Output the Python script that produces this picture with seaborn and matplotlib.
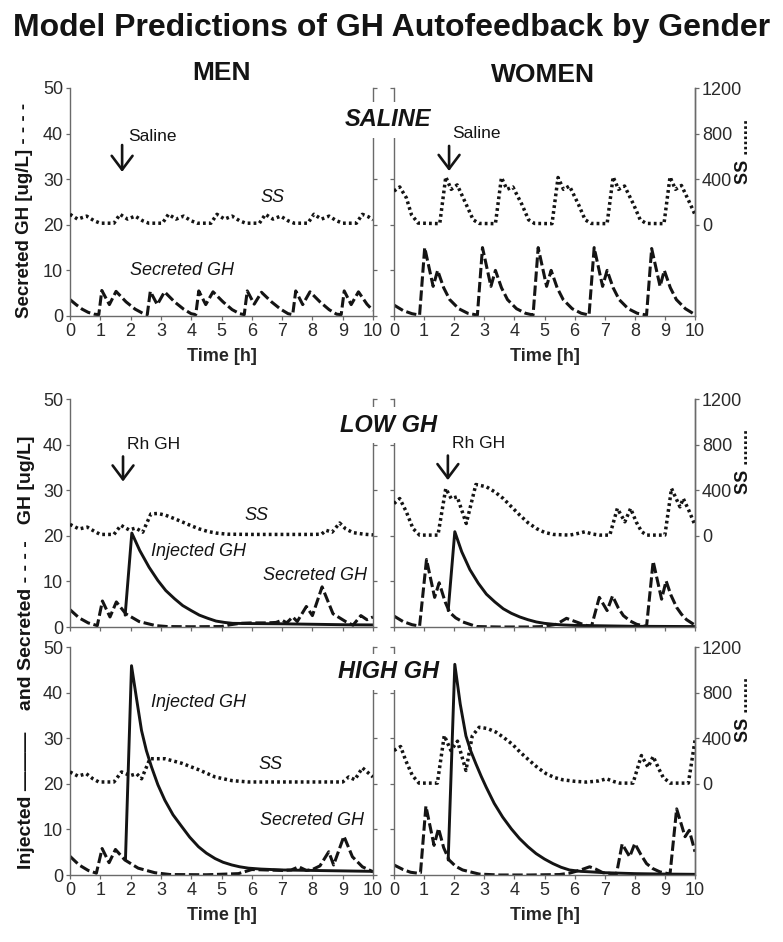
import numpy as np
import pandas as pd
import seaborn as sns
from matplotlib import pyplot as plt

sns.set_style('ticks')
plt.rcParams['font.family'] = ['Liberation Sans', 'DejaVu Sans']

INK = '#141414'
SPINE = '#6a6a6a'

# ---- data (time in h) ----
# row 1: saline
m1_gh_t = [0, 0.2, 0.4, 0.6, 0.8, 0.95, 1.05, 1.3, 1.52, 1.85, 2.15, 2.4, 2.55, 2.65, 2.88, 3.12, 3.45, 3.75, 4.0, 4.15,
           4.25, 4.48, 4.72, 5.05, 5.35, 5.6, 5.75, 5.85, 6.08, 6.32, 6.65, 6.95, 7.2, 7.35, 7.45, 7.68, 7.92, 8.25, 8.55,
           8.8, 8.95, 9.05, 9.28, 9.52, 9.8, 10]
m1_gh_v = [3.6, 2.5, 1.5, 0.8, 0.4, 0.3, 5.6, 2.5, 5.4, 3.1, 1.5, 0.6, 0.3, 5.4, 2.5, 5.3, 3.1, 1.5, 0.5, 0.3,
           5.5, 2.5, 5.3, 3.1, 1.4, 0.5, 0.3, 5.5, 2.6, 5.2, 3.1, 1.5, 0.5, 0.3, 5.5, 2.5, 5.3, 3.1, 1.4,
           0.4, 0.3, 5.5, 2.5, 5.3, 2.6, 1.2]
m1_ss_t = [0, 0.25, 0.55, 0.8, 1.0, 1.45, 1.65, 1.9, 2.15, 2.4, 2.6, 3.05, 3.25, 3.5, 3.75, 4.0, 4.2, 4.65, 4.85, 5.1,
           5.35, 5.6, 5.8, 6.25, 6.45, 6.7, 6.95, 7.2, 7.4, 7.85, 8.05, 8.3, 8.55, 8.8, 9.0, 9.45, 9.65, 9.85, 10]
m1_ss_v = [92, 50, 76, 35, 14, 14, 92, 50, 76, 35, 14, 14, 92, 50, 76, 35, 14, 14, 92, 50,
           76, 35, 14, 14, 92, 50, 76, 35, 14, 14, 92, 50, 76, 35, 14, 14, 92, 70, 44]

w1_gh_t = [0, 0.3, 0.6, 0.85, 1.02, 1.3, 1.45, 1.65, 1.85, 2.15, 2.45, 2.77, 2.94, 3.22, 3.37, 3.57, 3.77, 4.07, 4.37,
           4.62, 4.79, 5.07, 5.22, 5.42, 5.62, 5.92, 6.22, 6.48, 6.65, 6.93, 7.08, 7.28, 7.48, 7.78, 8.08, 8.39, 8.56,
           8.84, 8.98, 9.18, 9.38, 9.68, 10]
w1_gh_v = [2.4, 1.2, 0.5, 0.2, 15.0, 6.5, 10.0, 6.2, 3.6, 1.6, 0.6, 0.2, 15.0, 6.5, 10.0, 6.2, 3.6, 1.6, 0.6,
           0.2, 15.0, 6.5, 10.0, 6.2, 3.6, 1.6, 0.6, 0.2, 15.0, 6.5, 10.0, 6.2, 3.6, 1.6, 0.6, 0.2, 14.8,
           6.5, 10.0, 6.2, 3.6, 1.6, 0.3]
w1_ss_t = [0, 0.19, 0.41, 0.58, 0.8, 1.52, 1.72, 1.9, 2.1, 2.4, 2.63, 2.83, 3.37, 3.57, 3.75, 3.95, 4.25, 4.47, 4.67,
           5.25, 5.45, 5.63, 5.83, 6.13, 6.35, 6.55, 7.08, 7.28, 7.46, 7.66, 7.96, 8.18, 8.38, 8.97, 9.17, 9.35, 9.55,
           9.85, 10]
w1_ss_v = [296, 332, 237, 89, 15, 10, 420, 311, 350, 178, 44, 12, 10, 415, 311, 332, 178, 44, 12,
           10, 415, 311, 340, 178, 44, 12, 10, 420, 311, 340, 178, 44, 12, 10, 420, 311, 345,
           178, 89]

# row 2: low GH
m2_gh_t = [0, 0.3, 0.6, 0.9, 1.07, 1.32, 1.53, 1.84, 2.28, 2.83, 3.2, 4.0, 5.0, 5.3, 5.6, 6.0, 6.5, 6.8, 7.0, 7.15,
           7.35, 7.5, 7.8, 8.0, 8.32, 8.68, 9.12, 9.34, 9.6, 9.8, 10]
m2_gh_v = [3.8, 2.0, 0.9, 0.3, 5.7, 2.2, 5.5, 2.9, 1.2, 0.3, 0.1, 0.05, 0.1, 0.5, 0.8, 0.9, 0.9, 1.0, 1.5, 0.9,
           2.2, 1.2, 4.5, 2.5, 8.8, 2.9, 1.1, 0.4, 2.5, 1.6, 2.2]
m2_inj_t = [1.82, 2.04, 2.3, 2.61, 2.9, 3.16, 3.45, 3.72, 4.0, 4.27, 4.55, 4.82, 5.1, 5.37, 6.0, 7.0, 8.0, 9.0, 10]
m2_inj_v = [2.6, 20.6, 16.8, 13.1, 10.2, 8.0, 6.2, 4.7, 3.6, 2.6, 1.9, 1.3, 1.0, 0.8, 0.75, 0.7, 0.6, 0.5, 0.45]
m2_ss_t = [0, 0.3, 0.57, 0.8, 1.0, 1.45, 1.68, 1.95, 2.17, 2.4, 2.67, 2.9, 3.16, 3.45, 3.72, 4.0, 4.27, 4.55, 4.82,
           5.2, 6.0, 7.0, 8.0, 8.3, 8.45, 8.65, 8.9, 9.1, 9.34, 9.7, 10]
m2_ss_v = [100, 60, 76, 40, 12, 12, 92, 52, 68, 32, 192, 196, 180, 150, 120, 88, 60, 38, 24,
           14, 12, 12, 12, 14, 48, 32, 112, 60, 28, 14, 8]

w2_gh_t = [0, 0.3, 0.6, 0.85, 1.08, 1.35, 1.5, 1.7, 1.85, 2.05, 2.29, 2.74, 3.5, 4.5, 4.96, 5.4, 5.73, 6.06, 6.35,
           6.56, 6.82, 7.08, 7.26, 7.45, 7.62, 7.85, 8.06, 8.39, 8.61, 8.89, 9.04, 9.2, 9.39, 9.55, 9.72, 10]
w2_gh_v = [2.4, 1.2, 0.5, 0.2, 14.8, 6.5, 9.7, 5.5, 3.2, 2.0, 1.1, 0.1, 0.0, 0.0, 0.1, 0.6, 1.9, 1.1, 0.4,
           0.1, 6.5, 3.6, 6.8, 4.2, 2.5, 1.3, 0.6, 0.1, 14.4, 6.1, 10.1, 7.0, 4.3, 2.8, 1.6, 0.4]
w2_inj_t = [1.8, 2.02, 2.25, 2.52, 2.8, 3.07, 3.35, 3.63, 3.9, 4.18, 4.45, 4.73, 5.0, 5.29, 5.62, 6.0, 7.0, 8.0, 10]
w2_inj_v = [3.6, 20.9, 16.5, 12.6, 9.6, 7.2, 5.5, 4.0, 3.0, 2.2, 1.6, 1.1, 0.8, 0.6, 0.45, 0.35, 0.25, 0.15, 0.1]
w2_ss_t = [0, 0.19, 0.41, 0.63, 0.85, 1.46, 1.72, 1.9, 2.1, 2.4, 2.72, 3.07, 3.35, 3.63, 3.9, 4.18, 4.45, 4.73, 5.0,
           5.29, 5.84, 6.1, 6.34, 6.6, 6.84, 7.17, 7.42, 7.67, 7.86, 8.05, 8.23, 8.4, 9.0, 9.22, 9.5, 9.61, 9.8, 10]
w2_ss_v = [283, 327, 210, 64, 6, 6, 415, 327, 342, 108, 450, 430, 385, 327, 255, 181, 115, 64, 30,
           12, 6, 20, 35, 15, 6, 6, 240, 123, 240, 120, 35, 6, 6, 415, 254, 327, 220, 93]

# row 3: high GH
m3_gh_t = [0, 0.3, 0.6, 0.87, 1.06, 1.29, 1.5, 1.81, 2.25, 2.8, 3.3, 4.5, 5.56, 6.0, 6.5, 7.0, 7.3, 7.55, 7.8, 8.0,
           8.25, 8.54, 8.7, 9.04, 9.32, 9.65, 10]
m3_gh_v = [4.1, 2.2, 1.0, 0.4, 5.8, 2.7, 5.6, 3.3, 1.5, 0.5, 0.1, 0.05, 0.3, 1.2, 1.1, 1.0, 1.1, 1.8, 1.0, 1.2,
           2.0, 5.1, 2.2, 8.5, 4.0, 1.8, 0.7]
m3_inj_t = [1.83, 2.03, 2.2, 2.36, 2.52, 2.69, 2.9, 3.13, 3.4, 3.69, 3.95, 4.24, 4.5, 4.79, 5.05, 5.34, 5.6, 5.89,
            6.3, 7.0, 8.0, 9.0, 10]
m3_inj_v = [3.3, 45.9, 38.5, 31.7, 27.3, 23.7, 19.8, 16.4, 13.2, 10.6, 8.3, 6.2, 4.8, 3.6, 2.8, 2.2, 1.8, 1.5,
            1.3, 1.1, 1.0, 0.9, 0.8]
m3_ss_t = [0, 0.26, 0.54, 0.75, 0.95, 1.45, 1.7, 1.99, 2.2, 2.36, 2.64, 3.13, 3.69, 4.24, 4.79, 5.34, 5.89, 7.0, 8.0,
           9.0, 9.2, 9.4, 9.65, 10]
m3_ss_v = [104, 68, 88, 45, 16, 16, 104, 72, 88, 44, 220, 220, 180, 124, 60, 28, 16, 16, 16,
           16, 60, 36, 140, 60]

w3_gh_t = [0, 0.3, 0.55, 0.78, 0.88, 1.06, 1.33, 1.48, 1.65, 1.83, 2.05, 2.28, 2.83, 3.5, 4.5, 5.5, 5.83, 6.2, 6.5,
           6.7, 6.94, 7.39, 7.58, 7.83, 8.0, 8.2, 8.39, 8.6, 8.83, 9.17, 9.39, 9.67, 9.81, 10]
w3_gh_v = [2.2, 1.2, 0.6, 0.4, 0.5, 15.1, 6.5, 10.2, 6.0, 3.3, 1.9, 1.1, 0.2, 0.0, 0.0, 0.1, 0.4, 1.1, 1.8,
           1.3, 0.5, 0.2, 6.8, 4.0, 6.9, 4.5, 2.5, 1.4, 0.7, 0.2, 14.5, 8.4, 9.8, 5.1]
w3_inj_t = [1.8, 2.02, 2.2, 2.39, 2.55, 2.72, 2.9, 3.06, 3.33, 3.61, 3.9, 4.17, 4.45, 4.72, 5.0, 5.28, 5.55, 5.83,
            6.2, 6.5, 7.0, 8.0, 9.0, 10]
w3_inj_v = [3.3, 46.2, 37.5, 30.5, 27.2, 24.4, 21.6, 19.3, 15.7, 12.7, 10.1, 8.0, 6.2, 4.7, 3.5, 2.5, 1.7, 1.1,
            0.8, 0.7, 0.5, 0.3, 0.2, 0.15]
w3_ss_t = [0, 0.22, 0.39, 0.61, 0.83, 1.44, 1.67, 1.89, 2.11, 2.39, 2.6, 2.83, 3.1, 3.39, 3.65, 3.94, 4.2, 4.5, 4.78,
           5.06, 5.33, 5.61, 6.0, 6.39, 6.8, 7.06, 7.3, 7.5, 7.94, 8.22, 8.44, 8.61, 8.8, 8.94, 9.17, 9.78, 10]
w3_ss_v = [292, 327, 204, 73, 6, 6, 423, 292, 374, 117, 420, 496, 485, 453, 405, 345, 275, 204, 140,
           88, 55, 35, 22, 15, 25, 44, 20, 6, 6, 248, 146, 240, 130, 58, 6, 6, 380]

rows = [
    dict(title='SALINE', ty=120,
         men=(m1_gh_t, m1_gh_v, None, None, m1_ss_t, m1_ss_v),
         women=(w1_gh_t, w1_gh_v, None, None, w1_ss_t, w1_ss_v),
         arrow='Saline'),
    dict(title='LOW GH', ty=425,
         men=(m2_gh_t, m2_gh_v, m2_inj_t, m2_inj_v, m2_ss_t, m2_ss_v),
         women=(w2_gh_t, w2_gh_v, w2_inj_t, w2_inj_v, w2_ss_t, w2_ss_v),
         arrow='Rh GH'),
    dict(title='HIGH GH', ty=672,
         men=(m3_gh_t, m3_gh_v, m3_inj_t, m3_inj_v, m3_ss_t, m3_ss_v),
         women=(w3_gh_t, w3_gh_v, w3_inj_t, w3_inj_v, w3_ss_t, w3_ss_v),
         arrow=None),
]

# labels inside the men panels: (text, t, y)
men_notes = [
    [('SS', 6.67, 26.0), ('Secreted GH', 3.7, 9.9)],
    [('SS', 6.16, 24.5), ('Injected GH', 4.24, 16.6), ('Secreted GH', 8.08, 11.4)],
    [('SS', 6.62, 24.2), ('Injected GH', 4.24, 37.8), ('Secreted GH', 7.98, 12.0)],
]
# arrow x, arrow top, arrow bottom, text x, text y  (men, women)
arrows = [
    [(1.72, 37.5, 31.6, 1.93, 39.3), (1.83, 37.3, 31.8, 1.93, 40.0)],
    [(1.75, 37.4, 31.9, 1.88, 40.0), (1.79, 37.6, 32.2, 1.93, 40.2)],
]

W, H = 783, 942
fig = plt.figure(figsize=(W / 100, H / 100), dpi=100)

bottoms = [316, 627, 875]
ax_h = 228 / H


def draw_lines(ax, ax2, gh_t, gh_v, inj_t, inj_v, ss_t, ss_v):
    sns.lineplot(x=gh_t, y=gh_v, ax=ax, color=INK, lw=2.2, linestyle=(0, (3.4, 1.2)),
                 estimator=None, sort=False)
    if inj_t is not None:
        sns.lineplot(x=inj_t, y=inj_v, ax=ax, color=INK, lw=2.1, linestyle='-',
                     estimator=None, sort=False)
    sns.lineplot(x=ss_t, y=ss_v, ax=ax2, color=INK, lw=2.5, linestyle=(0, (0.8, 0.9)),
                 estimator=None, sort=False)


def style_axes(ax, ax2, side, row_i):
    ax.set_xlim(0, 10)
    ax.set_ylim(0, 50)
    ax.set_xticks(range(0, 11))
    ax.set_yticks(range(0, 51, 10))
    ax2.set_ylim(-800, 1200)
    for a in (ax, ax2):
        a.spines['top'].set_visible(False)
        for s in ('left', 'right', 'bottom'):
            a.spines[s].set_color(SPINE)
            a.spines[s].set_linewidth(1.0)
        a.tick_params(length=3, width=0.9, color=SPINE, labelsize=13, labelcolor='#2a2a2a', pad=2)
    ax.set_xlabel('')
    ax.set_ylabel('')
    ax2.set_ylabel('')
    if side == 'men':
        ax.tick_params(axis='y', left=True, right=True, labelleft=True, labelright=False)
        ax2.set_yticks([])
        ax2.spines['right'].set_visible(False)
        ax2.spines['left'].set_visible(False)
    else:
        ax.tick_params(axis='y', left=True, right=False, labelleft=False)
        ax2.set_yticks([0, 400, 800, 1200])
        ax2.spines['left'].set_visible(False)
    ax2.spines['bottom'].set_visible(False)
    if row_i == 1:
        ax.tick_params(axis='x', labelbottom=False)
    else:
        ax.set_xlabel('Time [h]', fontsize=13, fontweight='bold', labelpad=6)


for row_i, row in enumerate(rows):
    b = 1 - bottoms[row_i] / H
    axm = fig.add_axes([70 / W, b, 303 / W, ax_h])
    axw = fig.add_axes([394 / W, b, 301 / W, ax_h])
    axm2 = axm.twinx()
    axw2 = axw.twinx()

    draw_lines(axm, axm2, *row['men'])
    draw_lines(axw, axw2, *row['women'])
    style_axes(axm, axm2, 'men', row_i)
    style_axes(axw, axw2, 'women', row_i)

    for txt, tx, ty in men_notes[row_i]:
        axm.text(tx, ty, txt, fontsize=13, fontstyle='italic', ha='center', va='center', color=INK)

    if row['arrow']:
        for a, (ax_, top, bot, tx, ty) in zip((axm, axw), arrows[row_i]):
            a.annotate('', xy=(ax_, bot), xytext=(ax_, top),
                       arrowprops=dict(arrowstyle='->,head_length=0.4,head_width=0.3', lw=1.9,
                                       color=INK, shrinkA=0, shrinkB=0, mutation_scale=25))
            a.text(tx, ty, row['arrow'], fontsize=12.5, ha='left', va='center', color=INK)

    # group title sitting over the gap between the panels
    fig.text(388 / W, 1 - row['ty'] / H, row['title'], fontsize=17, fontweight='bold', fontstyle='italic',
             ha='center', va='center', color=INK,
             bbox=dict(boxstyle='square,pad=0.28', fc='white', ec='none'))

    # right-hand SS label
    fig.text(743 / W, 1 - (151 + [0, 310, 558][row_i]) / H, 'SS .......', rotation=90, fontsize=13,
             fontweight='bold', ha='center', va='center', color=INK)

fig.text(0.5, 1 - 28 / H, 'Model Predictions of GH Autofeedback by Gender', fontsize=23, fontweight='bold',
         ha='center', va='center', color=INK)
fig.text(221 / W, 1 - 73 / H, 'MEN', fontsize=19, fontweight='bold', ha='center', va='center', color=INK)
fig.text(543 / W, 1 - 75 / H, 'WOMEN', fontsize=19, fontweight='bold', ha='center', va='center', color=INK)

fig.text(25 / W, 1 - 210 / H, 'Secreted GH [ug/L] - - - -', rotation=90, fontsize=13.5, fontweight='bold',
         ha='center', va='center', color=INK)
fig.text(27 / W, 1 - 652 / H, 'Injected \u2014\u2014\u2014    and Secreted - - - -   GH [ug/L]', rotation=90,
         fontsize=14, fontweight='bold', ha='center', va='center', color=INK)

fig.savefig('out.png', dpi=100)
